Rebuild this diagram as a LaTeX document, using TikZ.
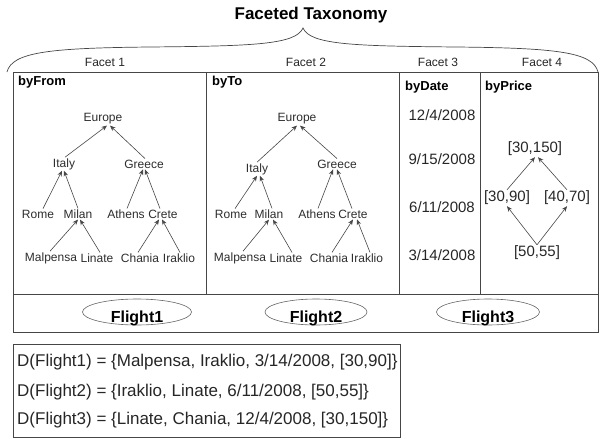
\documentclass[tikz,border=0pt]{standalone}
\usepackage{fontspec}
\setmainfont{Liberation Sans}
\usetikzlibrary{arrows.meta,shapes.geometric}
\definecolor{ln}{RGB}{70,70,70}
\definecolor{tx}{RGB}{45,45,45}
\newcommand{\lowered}[1]{\raisebox{-6pt}[12pt][3pt]{#1}}
\tikzset{
  lbl/.style={font=\fontsize{12}{14}\selectfont, text=tx, inner sep=1pt},
  big/.style={font=\fontsize{15}{17}\selectfont, text=black!85, inner sep=1pt},
  head/.style={font=\fontsize{13}{15}\selectfont\bfseries, anchor=west, inner sep=0pt},
  facet/.style={font=\fontsize{12}{14}\selectfont, text=black!85, inner sep=0pt},
  arr/.style={draw=ln, line width=0.6pt, -{Stealth[length=5.5pt,width=4.5pt]}},
  frame/.style={draw=ln, line width=0.8pt},
  flight/.style={ellipse, draw=black!60, line width=0.6pt, minimum height=26pt, inner sep=0pt,
    font=\fontsize{16}{18}\selectfont\bfseries},
  desc/.style={font=\fontsize{17}{19}\selectfont, text=black!85, anchor=west, inner sep=0pt},
}
\begin{document}
\begin{tikzpicture}[x=1pt,y=-1pt]
\useasboundingbox (0,0) rectangle (605,439);
% title and brace
\node[font=\fontsize{17}{19}\selectfont\bfseries, inner sep=0pt] (title) at (311,15) {Faceted Taxonomy};
\draw[ln, line width=0.7pt] (7,72) .. controls (12,52) and (50,48) .. (150,47)
  .. controls (250,46) and (296,45) .. (303,28)
  .. controls (310,45) and (356,46) .. (456,47)
  .. controls (556,48) and (593,52) .. (598,72);
% facet labels
\node[facet] (fa1) at (105,62) {Facet 1};
\node[facet] (fa2) at (306,62) {Facet 2};
\node[facet] (fa3) at (438,62) {Facet 3};
\node[facet] (fa4) at (542,62) {Facet 4};
% frame
\draw[frame] (13,72) rectangle (598,332);
\draw[frame] (13,294) -- (598,294);
\draw[frame] (206,72) -- (206,294);
\draw[frame] (399,72) -- (399,294);
\draw[frame] (480,72) -- (480,294);
% headers
\node[head] (hf) at (18,82) {byFrom};
\node[head] (ht) at (212,82) {byTo};
\node[head] (hd) at (405,87) {byDate};
\node[head] (hp) at (485,87) {byPrice};
% tree 1
\node[lbl] (eu1) at (103,119) {Europe};
\node[lbl] (it1) at (64,164) {Italy};
\node[lbl] (gr1) at (144,164) {Greece};
\node[lbl] (ro1) at (38,214) {Rome};
\node[lbl] (mi1) at (78,214) {Milan};
\node[lbl] (at1) at (126,214) {Athens};
\node[lbl] (cr1) at (163,214) {Crete};
\node[lbl] (ma1) at (51,258) {Malpensa};
\node[lbl] (li1) at (97,258) {Linate};
\node[lbl] (ch1) at (140,258) {Chania};
\node[lbl] (ir1) at (179,258) {Iraklio};
\draw[arr] ([xshift=1pt]it1.north) -- ([xshift=4pt]eu1.south);
\draw[arr] ([xshift=1pt]gr1.north) -- ([xshift=7pt]eu1.south);
\draw[arr] ([xshift=5pt]ro1.north) -- ([xshift=-2pt]it1.south);
\draw[arr] (mi1.north) -- (it1.south);
\draw[arr] ([xshift=1pt]at1.north) -- ([xshift=-1pt]gr1.south);
\draw[arr] ([xshift=-3pt]cr1.north) -- ([xshift=1pt]gr1.south);
\draw[arr] ([xshift=-1pt]ma1.north) -- (mi1.south);
\draw[arr] ([xshift=3pt]li1.north) -- ([xshift=2pt]mi1.south);
\draw[arr] ([xshift=-2pt]ch1.north) -- ([xshift=-4pt]cr1.south);
\draw[arr] ([xshift=1pt]ir1.north) -- ([xshift=-1pt]cr1.south);
% tree 2
\node[lbl] (eu2) at (297,119) {Europe};
\node[lbl] (it2) at (257,169) {Italy};
\node[lbl] (gr2) at (337,164) {Greece};
\node[lbl] (ro2) at (231,214) {Rome};
\node[lbl] (mi2) at (269,214) {Milan};
\node[lbl] (at2) at (317,214) {Athens};
\node[lbl] (cr2) at (353,214) {Crete};
\node[lbl] (ma2) at (240,258) {Malpensa};
\node[lbl] (li2) at (286,258) {Linate};
\node[lbl] (ch2) at (329,258) {Chania};
\node[lbl] (ir2) at (367,258) {Iraklio};
\draw[arr] (it2.north) -- (eu2.south);
\draw[arr] (gr2.north) -- ([xshift=3pt]eu2.south);
\draw[arr] ([xshift=4pt]ro2.north) -- (it2.south);
\draw[arr] ([xshift=3pt]mi2.north) -- ([xshift=3pt]it2.south);
\draw[arr] ([xshift=1pt]at2.north) -- ([xshift=-4pt]gr2.south);
\draw[arr] ([xshift=-1pt]cr2.north) -- (gr2.south);
\draw[arr] ([xshift=3pt]ma2.north) -- (mi2.south);
\draw[arr] ([xshift=6pt]li2.north) -- ([xshift=4pt]mi2.south);
\draw[arr] ([xshift=3pt]ch2.north) -- (cr2.south);
\draw[arr] ([xshift=3pt]ir2.north) -- ([xshift=4pt]cr2.south);
% dates
\node[big] (d1) at (442,115) {12/4/2008};
\node[big] (d2) at (442,159) {9/15/2008};
\node[big] (d3) at (442,207) {6/11/2008};
\node[big] (d4) at (442,255) {3/14/2008};
% prices
\node[big] (p150) at (535,149) {[30,150]};
\node[big] (p90) at (507,198) {[30,90]};
\node[big] (p70) at (567,198) {[40,70]};
\node[big] (p55) at (537,253) {[50,55]};
\draw[arr] (p90.north) -- (p150.south);
\draw[arr] (p70.north) -- ([xshift=3pt]p150.south);
\draw[arr] (p55.north) -- (p90.south);
\draw[arr] (p55.north) -- (p70.south);
% flights
\node[flight, minimum width=109pt] (f1) at (137,312) {\lowered{Flight1}};
\node[flight, minimum width=102pt] (f2) at (316,312) {\lowered{Flight2}};
\node[flight, minimum width=103pt] (f3) at (488,312) {\lowered{Flight3}};
% descriptions
\draw[frame] (13,344) rectangle (400,437);
\node[desc] (l1) at (17,362) {D(Flight1) = \{Malpensa, Iraklio, 3/14/2008, [30,90]\}};
\node[desc] (l2) at (17,392) {D(Flight2) = \{Iraklio, Linate, 6/11/2008, [50,55]\}};
\node[desc] (l3) at (17,420) {D(Flight3) = \{Linate, Chania, 12/4/2008, [30,150]\}};
\end{tikzpicture}
\end{document}
